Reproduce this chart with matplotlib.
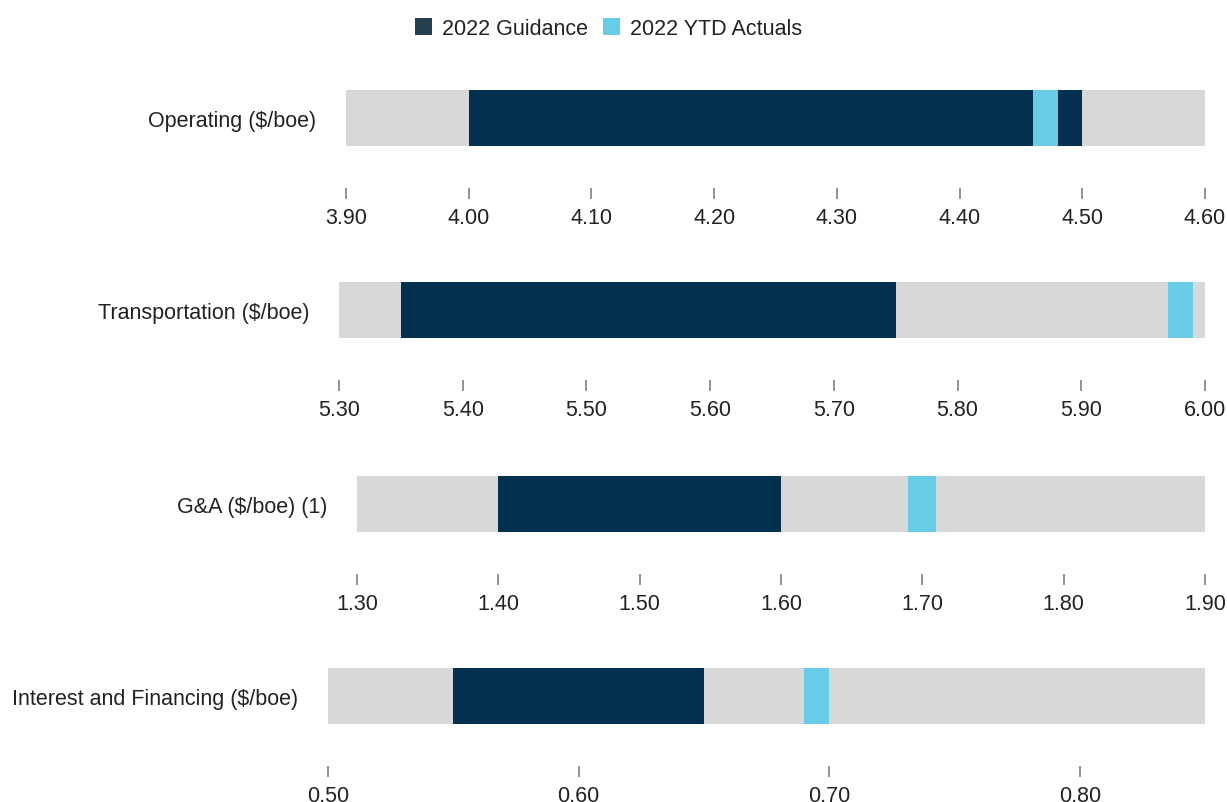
import matplotlib
matplotlib.use("Agg")
import matplotlib.pyplot as plt
from matplotlib.patches import Patch

plt.rcParams['font.family'] = ['Liberation Sans', 'DejaVu Sans']

categories = ['Operating ($/boe)', 'Transportation ($/boe)', 'G&A ($/boe) (1)',
              'Interest and Financing ($/boe)']
axis_min = [3.90, 5.30, 1.30, 0.50]
axis_max = [4.60, 6.00, 1.90, 0.85]
guidance_low = [4.00, 5.35, 1.40, 0.55]
guidance_high = [4.50, 5.75, 1.60, 0.65]
actual_low = [4.46, 5.97, 1.69, 0.69]
actual_high = [4.48, 5.99, 1.71, 0.70]
tick_values = [
    [3.90, 4.00, 4.10, 4.20, 4.30, 4.40, 4.50, 4.60],
    [5.30, 5.40, 5.50, 5.60, 5.70, 5.80, 5.90, 6.00],
    [1.30, 1.40, 1.50, 1.60, 1.70, 1.80, 1.90],
    [0.50, 0.60, 0.70, 0.80],
]

GRAY = '#d7d8da'
NAVY = '#03304f'
LIGHT = '#67cde6'
TEXT = '#222222'

W, H = 1227, 803
fig = plt.figure(figsize=(W / 100, H / 100), dpi=100)

# pixel layout of each row: left edge, bar top, tick bottom
lefts = [346, 339, 357, 328]
tops = [91, 283, 477, 669]
right = 1205
bar_px = 56
row_px = 109

for i in range(4):
    ax = fig.add_axes([lefts[i] / W, 1 - (tops[i] + row_px) / H,
                       (right - lefts[i]) / W, row_px / H])
    gap = (row_px - bar_px) / bar_px
    ax.barh(0, axis_max[i] - axis_min[i], left=axis_min[i], height=1,
            align='edge', color=GRAY, linewidth=0)
    ax.barh(0, guidance_high[i] - guidance_low[i], left=guidance_low[i],
            height=1, align='edge', color=NAVY, linewidth=0)
    ax.barh(0, actual_high[i] - actual_low[i], left=actual_low[i],
            height=1, align='edge', color=LIGHT, linewidth=0)
    ax.set_xlim(axis_min[i], axis_max[i])
    ax.set_ylim(-gap, 1)
    for s in ax.spines.values():
        s.set_visible(False)
    ax.set_xticks(tick_values[i])
    ax.set_xticklabels(['%.2f' % v for v in tick_values[i]])
    ax.tick_params(axis='x', direction='in', length=8, width=1.3,
                   color='#8a8a8a', pad=6, labelsize=15.5, labelcolor=TEXT)
    ax.set_yticks([0.5])
    ax.set_yticklabels([categories[i]])
    ax.tick_params(axis='y', length=0, pad=21.5, labelsize=15.5, labelcolor=TEXT)

handles = [Patch(facecolor='#263f4f', edgecolor='none', label='2022 Guidance'),
           Patch(facecolor=LIGHT, edgecolor='none', label='2022 YTD Actuals')]
fig.legend(handles=handles, loc='upper center', bbox_to_anchor=(0.496, 0.995),
           ncol=2, frameon=False, fontsize=15.5, handlelength=0.78,
           handleheight=0.78, handletextpad=0.48, columnspacing=0.7,
           labelcolor=TEXT, borderaxespad=0.3)

fig.savefig('out.png', dpi=100)
